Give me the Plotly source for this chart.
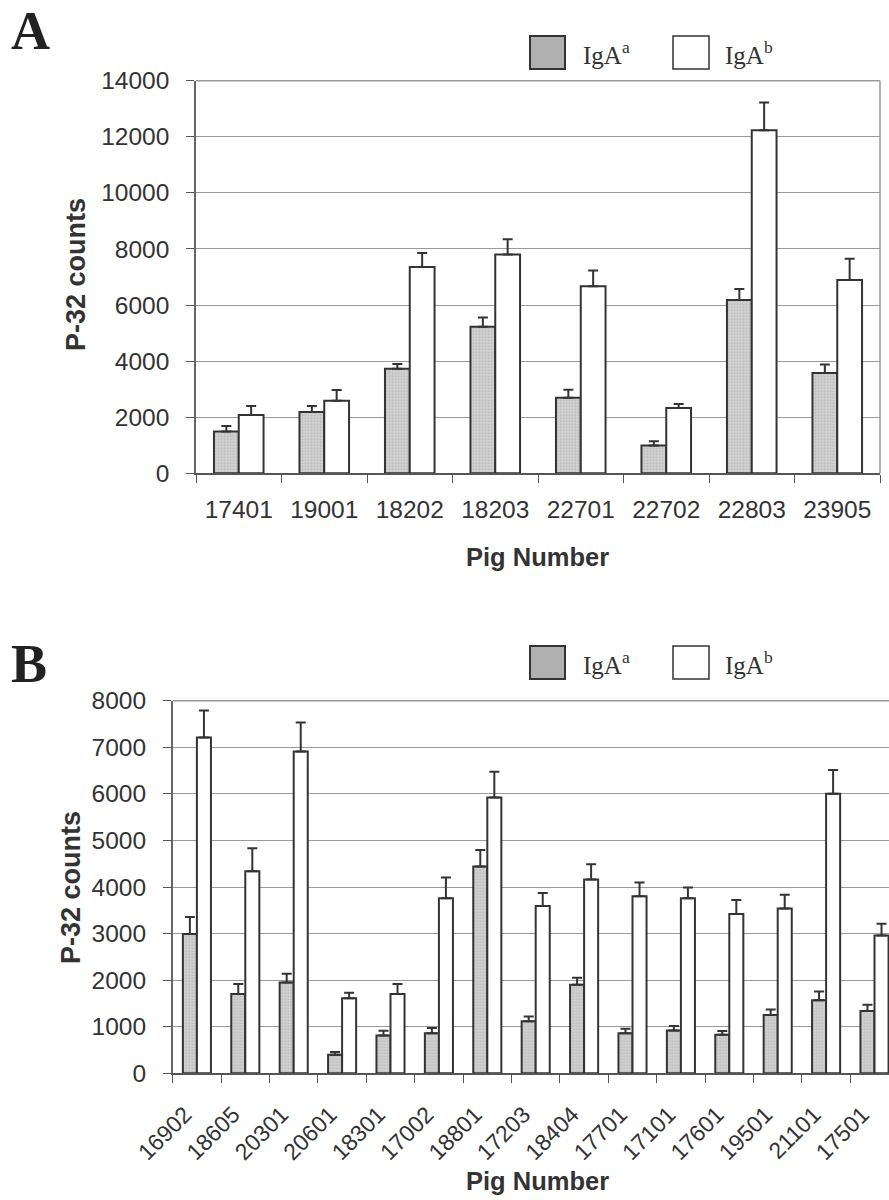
import plotly.graph_objects as go

W, H = 889, 1200

# ---------------- data ----------------
pigs_a = ["17401", "19001", "18202", "18203", "22701", "22702", "22803", "23905"]
iga_a_A = [1490, 2190, 3730, 5230, 2690, 990, 6180, 3580]
iga_a_A_err = [200, 210, 170, 330, 290, 150, 390, 300]
iga_b_A = [2080, 2590, 7360, 7800, 6670, 2330, 12230, 6890]
iga_b_A_err = [320, 380, 500, 550, 560, 140, 990, 760]

pigs_b = ["16902", "18605", "20301", "20601", "18301", "17002", "18801", "17203",
          "18404", "17701", "17101", "17601", "19501", "21101", "17501"]
iga_a_B = [2990, 1700, 1950, 400, 810, 860, 4440, 1120, 1900, 860, 920, 830, 1250, 1570, 1340]
iga_a_B_err = [365, 215, 185, 60, 105, 115, 355, 100, 150, 95, 95, 80, 120, 185, 130]
iga_b_B = [7210, 4340, 6910, 1610, 1700, 3760, 5920, 3590, 4160, 3800, 3760, 3420, 3540, 6000, 2960]
iga_b_B_err = [580, 490, 620, 120, 215, 445, 555, 280, 330, 295, 230, 300, 295, 510, 250]

y_ticks_A = [0, 2000, 4000, 6000, 8000, 10000, 12000, 14000]
y_ticks_B = [0, 1000, 2000, 3000, 4000, 5000, 6000, 7000, 8000]

# ---------------- helpers ----------------
def px(x):
    return x / W

def py(y):
    return 1 - y / H

TICK_FONT = dict(family="Liberation Sans, Arial, sans-serif", size=24.5, color="#333333")
TICK_FONT_B = dict(family="Liberation Sans, Arial, sans-serif", size=23, color="#333333")
XTITLE_FONT = dict(family="Liberation Sans, Arial, sans-serif", size=25.5, color="#333333")
YTITLE_FONT = dict(family="Liberation Sans, Arial, sans-serif", size=27, color="#333333")
LEG_FONT = dict(family="Liberation Serif, Times New Roman, serif", size=25, color="#333333")

GRAY_FILL = "#d0d0d0"
EDGE = "#333333"

fig = go.Figure()

def add_bars(cats, a, a_err, b, b_err, xa, ya):
    fig.add_trace(go.Bar(
        x=cats, y=a, name="IgA a", xaxis=xa, yaxis=ya,
        marker=dict(color=GRAY_FILL, line=dict(color=EDGE, width=2),
                    pattern=dict(shape=".", fgcolor="#9a9a9a", bgcolor=GRAY_FILL,
                                 size=3, solidity=0.25)),
        error_y=dict(type="data", symmetric=False, array=a_err,
                     arrayminus=[0] * len(a_err), color=EDGE, thickness=2, width=5),
        showlegend=False))
    fig.add_trace(go.Bar(
        x=cats, y=b, name="IgA b", xaxis=xa, yaxis=ya,
        marker=dict(color="white", line=dict(color=EDGE, width=2)),
        error_y=dict(type="data", symmetric=False, array=b_err,
                     arrayminus=[0] * len(b_err), color=EDGE, thickness=2, width=5),
        showlegend=False))

add_bars(pigs_a, iga_a_A, iga_a_A_err, iga_b_A, iga_b_A_err, "x", "y")
add_bars(pigs_b, iga_a_B, iga_a_B_err, iga_b_B, iga_b_B_err, "x2", "y2")

# axis geometry
A_left, A_right, A_top, A_bot = 196, 880, 80.7, 473.3
B_left, B_top, B_bot = 172.7, 700.7, 1073.3
B_step = 48.4
B_range_end = (W - B_left) / B_step - 0.5

common_x = dict(type="category", showline=True, linecolor="#555555", linewidth=1.5,
                ticks="outside", ticklen=8, tickcolor="#555555", tickwidth=1.2,
                tickson="boundaries", showgrid=False,
                zeroline=False, automargin=False)
common_y = dict(showline=True, linecolor="#666666", linewidth=1.5,
                ticks="outside", ticklen=8, tickcolor="#555555", tickwidth=1.2,
                showgrid=True, gridcolor="#9a9a9a", gridwidth=1, tickfont=TICK_FONT,
                zeroline=False, ticklabelstandoff=12, automargin=False,
                tickformat="d")

fig.update_layout(
    width=W, height=H, margin=dict(l=0, r=0, t=0, b=0, autoexpand=False),
    paper_bgcolor="white", plot_bgcolor="white",
    barmode="group", bargap=0.42, bargroupgap=0,
    xaxis=dict(domain=[px(A_left), px(A_right)], anchor="y", tickfont=TICK_FONT,
               range=[-0.5, len(pigs_a) - 0.5], ticklabelstandoff=14, **common_x),
    yaxis=dict(domain=[py(A_bot), py(A_top)], anchor="x", range=[0, 14000],
               tickvals=y_ticks_A, **common_y),
    xaxis2=dict(domain=[px(B_left), 1.0], anchor="y2", tickfont=TICK_FONT_B,
                range=[-0.5, B_range_end], tickangle=-45, ticklabelstandoff=17,
                ticklabelshift=-12, **common_x),
    yaxis2=dict(domain=[py(B_bot), py(B_top)], anchor="x2", range=[0, 8000],
                tickvals=y_ticks_B, **common_y),
)

shapes = []
shapes.append(dict(type="line", xref="x domain", yref="y domain", x0=0, x1=1, y0=1, y1=1,
                   line=dict(color="#9a9a9a", width=1.5)))
shapes.append(dict(type="line", xref="x domain", yref="y domain", x0=1, x1=1, y0=0, y1=1,
                   line=dict(color="#9a9a9a", width=1.5)))
shapes.append(dict(type="line", xref="x2 domain", yref="y2 domain", x0=0, x1=1, y0=1, y1=1,
                   line=dict(color="#9a9a9a", width=1.5)))

annotations = []

def legend(y_top):
    shapes.append(dict(type="rect", xref="paper", yref="paper",
                       x0=px(530), x1=px(565), y0=py(y_top + 33), y1=py(y_top),
                       fillcolor="#b0b0b0", line=dict(color="#333333", width=2)))
    shapes.append(dict(type="rect", xref="paper", yref="paper",
                       x0=px(673), x1=px(709), y0=py(y_top + 33), y1=py(y_top),
                       fillcolor="white", line=dict(color="#333333", width=1.5)))
    annotations.append(dict(text="IgA<sup>a</sup>", xref="paper", yref="paper",
                            x=px(581), y=py(y_top + 17), xanchor="left", yanchor="middle",
                            showarrow=False, font=LEG_FONT))
    annotations.append(dict(text="IgA<sup>b</sup>", xref="paper", yref="paper",
                            x=px(723), y=py(y_top + 17), xanchor="left", yanchor="middle",
                            showarrow=False, font=LEG_FONT))

legend(36)
legend(646)

PANEL_FONT = dict(family="Liberation Serif, Times New Roman, serif", size=54, color="#222222")
annotations.append(dict(text="<b>A</b>", xref="paper", yref="paper", x=px(9), y=py(31),
                        xanchor="left", yanchor="middle", showarrow=False, font=PANEL_FONT))
annotations.append(dict(text="<b>B</b>", xref="paper", yref="paper", x=px(9), y=py(664),
                        xanchor="left", yanchor="middle", showarrow=False, font=PANEL_FONT))

for (xc, yc) in [(76, 275), (71, 888)]:
    annotations.append(dict(text="<b>P-32 counts</b>", xref="paper", yref="paper",
                            x=px(xc), y=py(yc), textangle=-90, showarrow=False,
                            xanchor="center", yanchor="middle", font=YTITLE_FONT))
for (xc, yc) in [(537, 557), (537, 1181)]:
    annotations.append(dict(text="<b>Pig Number</b>", xref="paper", yref="paper",
                            x=px(xc), y=py(yc), showarrow=False,
                            xanchor="center", yanchor="middle", font=XTITLE_FONT))

fig.update_layout(shapes=shapes, annotations=annotations)
fig.write_html("out.html", config={"displayModeBar": False},
               post_script="document.body.style.margin='0';")
